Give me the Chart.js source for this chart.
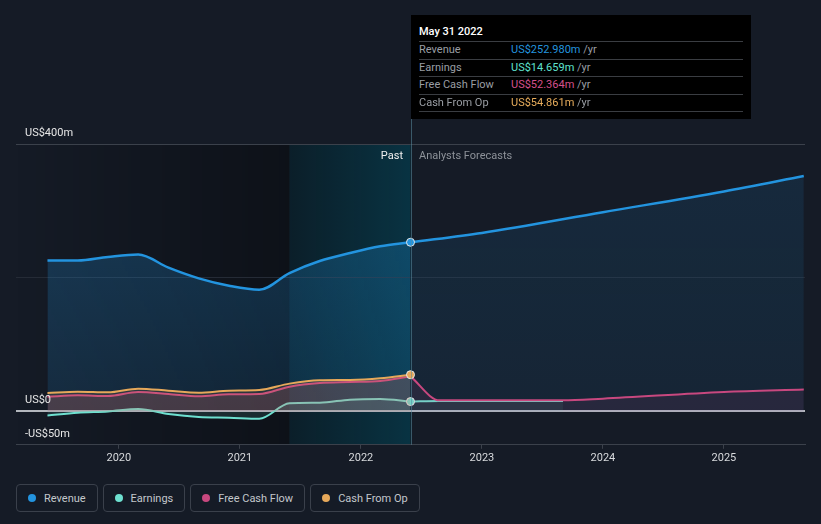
<!DOCTYPE html>
<html>
<head>
<meta charset="utf-8">
<script src="https://cdn.jsdelivr.net/npm/chart.js@4/dist/chart.umd.min.js"></script>
<style>
  body { margin: 0; background: #151b26; font-family: Roboto, 'Noto Sans', sans-serif; }
  #wrap { position: relative; width: 821px; height: 524px; overflow: hidden; }
  #chart { position: absolute; left: 0; top: 0; }
  .tip { position: absolute; left: 411px; top: 15px; width: 340px; height: 104px; background: #000; font-size: 11px; }
  .tip .title { position: absolute; left: 8px; top: 10px; color: #fff; font-weight: 500; }
  .tip .row { position: absolute; left: 8px; width: 324px; height: 17px; border-top: 1px solid #3a3d42; }
  .tip .row > span { position: absolute; top: 1px; }
  .tip .lab { left: 0; color: #9a9ea4; }
  .tip .val { left: 92px; white-space: nowrap; }
  .tip .yr { color: #9a9ea4; }
  .legend { position: absolute; left: 16px; top: 484px; display: flex; gap: 5px; }
  .legend div { height: 26px; border: 1px solid #3a404b; border-radius: 4px; padding: 0 11px; display: flex; align-items: center; color: #c3c7cc; font-size: 11px; }
  .legend i { width: 8px; height: 8px; border-radius: 50%; margin-right: 8px; display: inline-block; }
</style>
</head>
<body>
<div id="wrap">
  <canvas id="chart" width="821" height="470"></canvas>
  <div class="tip" id="tip"></div>
  <div class="legend" id="legend"></div>
</div>
<script>
// past data, quarterly (decimal years), US$m
const pastDates = [2019.41, 2019.66, 2019.91, 2020.16, 2020.41, 2020.66, 2020.91, 2021.16, 2021.41, 2021.66, 2021.91, 2022.16, 2022.41];
const revenuePast = [225.6, 225.6, 231, 234.6, 215, 199, 188, 182, 207, 225, 237, 247, 252.98];
const earningsPast = [-6, -2, 0, 3.5, -4, -8.5, -9.5, -11, 12, 13, 17.5, 18.5, 14.659];
const fcfPast = [22, 24, 23, 29, 26, 22.5, 25.5, 26, 37, 42.5, 44, 45.5, 52.364];
const cfoPast = [27.5, 29.5, 28.5, 34, 31, 28, 31, 32, 41.5, 46.5, 47, 49.5, 54.861];

// analyst forecasts
const revenueFcDates = [2022.41, 2023.0, 2024.0, 2025.0, 2025.66];
const revenueFc = [252.98, 267, 298, 329, 352];
const earningsFcDates = [2022.41, 2022.65, 2023.67];
const earningsFc = [14.659, 15.5, 15.5];
const fcfFcDates = [2022.41, 2022.65, 2023.67, 2024.0, 2025.0, 2025.66];
const fcfFc = [52.364, 16.5, 16.5, 19, 29, 32.6];

const xTickYears = [2020, 2021, 2022, 2023, 2024, 2025];
const yGridValues = [-50, 0, 200, 400];
const yTickLabels = [[400, 'US$400m'], [0, 'US$0'], [-50, '-US$50m']];
const nowDate = 2022.41;
const yearAgoDate = 2021.41;

const colors = { revenue: '#2394df', earnings: '#6ee0d0', fcf: '#c8487f', cfo: '#e6a85a' };

const tipRows = [
  ['Revenue', 'US$252.980m', colors.revenue],
  ['Earnings', 'US$14.659m', '#5fe3cf'],
  ['Free Cash Flow', 'US$52.364m', '#d4508c'],
  ['Cash From Op', 'US$54.861m', '#e8ad5c']
];
const legendItems = [['Revenue', colors.revenue], ['Earnings', colors.earnings], ['Free Cash Flow', colors.fcf], ['Cash From Op', colors.cfo]];

const tip = document.getElementById('tip');
tip.innerHTML = '<div class="title">May 31 2022</div>' + tipRows.map((r, i) =>
  `<div class="row" style="top:${26 + i * 17.5}px"><span class="lab">${r[0]}</span><span class="val"><span style="color:${r[2]}">${r[1]}</span> <span class="yr">/yr</span></span></div>`
).join('') + '<div class="row" style="top:96px"></div>';
document.getElementById('legend').innerHTML = legendItems.map(l => `<div><i style="background:${l[1]}"></i>${l[0]}</div>`).join('');

const pts = (xs, ys) => xs.map((x, i) => ({ x: x, y: ys[i] }));
const lastDot = (n) => (ctx) => ctx.dataIndex === n - 1 ? 4 : 0;

function line(data, color, fill, width, radius) {
  return {
    data: data, borderColor: color, backgroundColor: fill, fill: 'origin',
    borderWidth: width, cubicInterpolationMode: 'monotone',
    pointRadius: radius || 0, pointBackgroundColor: color, pointBorderColor: '#e8e8e8', pointBorderWidth: 1
  };
}

function revenueFill(alphaTop, alphaBottom) {
  return (ctx) => {
    const a = ctx.chart.chartArea;
    if (!a) return 'rgba(35,148,223,0.15)';
    const g = ctx.chart.ctx.createLinearGradient(0, a.top, 0, a.bottom);
    g.addColorStop(0, `rgba(35,148,223,${alphaTop})`);
    g.addColorStop(1, `rgba(35,148,223,${alphaBottom})`);
    return g;
  };
}

const regions = {
  id: 'regions',
  beforeDraw(chart) {
    const { ctx, chartArea: a, scales: { x } } = chart;
    const xNow = x.getPixelForValue(nowDate), xAgo = x.getPixelForValue(yearAgoDate);
    ctx.save();
    let g = ctx.createLinearGradient(a.left, 0, xAgo, 0);
    g.addColorStop(0, 'rgba(0,0,0,0)');
    g.addColorStop(1, 'rgba(0,0,0,0.35)');
    ctx.fillStyle = g;
    ctx.fillRect(a.left, a.top, xAgo - a.left, a.bottom - a.top);
    ctx.fillStyle = 'rgba(0,0,0,0.35)';
    ctx.fillRect(xAgo, a.top, xNow - xAgo, a.bottom - a.top);
    g = ctx.createLinearGradient(xAgo, 0, xNow, 0);
    g.addColorStop(0, 'rgba(0,110,140,0.15)');
    g.addColorStop(1, 'rgba(0,110,140,0.36)');
    ctx.fillStyle = g;
    ctx.fillRect(xAgo, a.top, xNow - xAgo, a.bottom - a.top);
    ctx.restore();
  },
  afterDraw(chart) {
    const { ctx, chartArea: a, scales: { x, y } } = chart;
    const xNow = Math.round(x.getPixelForValue(nowDate)) + 0.5;
    ctx.save();
    ctx.strokeStyle = 'rgba(90,140,160,0.55)';
    ctx.lineWidth = 1;
    ctx.beginPath();
    ctx.moveTo(xNow, 15);
    ctx.lineTo(xNow, a.bottom);
    ctx.stroke();
    ctx.font = '11px Roboto';
    ctx.textBaseline = 'middle';
    ctx.fillStyle = '#e6e6e6';
    yTickLabels.forEach(([v, t]) => ctx.fillText(t, a.left + 9, y.getPixelForValue(v) - 11));
    ctx.textAlign = 'right';
    ctx.fillStyle = '#f0f0f0';
    ctx.fillText('Past', xNow - 8.5, a.top + 12);
    ctx.textAlign = 'left';
    ctx.fillStyle = '#8d9299';
    ctx.fillText('Analysts Forecasts', xNow + 7.5, a.top + 12);
    ctx.restore();
  }
};

new Chart(document.getElementById('chart'), {
  type: 'line',
  data: {
    datasets: [
      line(pts(pastDates, cfoPast), colors.cfo, 'rgba(230,168,90,0.12)', 2, lastDot(pastDates.length)),
      line(pts(pastDates, fcfPast), colors.fcf, 'rgba(200,72,127,0.16)', 2),
      line(pts(fcfFcDates, fcfFc), colors.fcf, 'rgba(200,72,127,0.1)', 2),
      line(pts(pastDates, earningsPast), colors.earnings, 'rgba(110,224,208,0.12)', 2, lastDot(pastDates.length)),
      line(pts(earningsFcDates, earningsFc), colors.earnings, 'rgba(110,224,208,0.08)', 2),
      line(pts(pastDates, revenuePast), colors.revenue, revenueFill(0.3, 0.12), 2.5, lastDot(pastDates.length)),
      line(pts(revenueFcDates, revenueFc), colors.revenue, revenueFill(0.13, 0.08), 2.5)
    ]
  },
  options: {
    responsive: false,
    animation: false,
    devicePixelRatio: 1,
    layout: { padding: { left: 16, right: 16, top: 144, bottom: 2 } },
    plugins: { legend: { display: false }, tooltip: { enabled: false } },
    scales: {
      x: {
        type: 'linear', min: 2019.15, max: 2025.67,
        afterBuildTicks: (axis) => { axis.ticks = xTickYears.map(v => ({ value: v })); },
        ticks: { color: '#d8dadd', font: { family: 'Roboto', size: 11 }, padding: 3, callback: (v) => String(v) },
        grid: { drawOnChartArea: false, tickLength: 4, color: '#3b414b' },
        border: { color: '#3b414b' }
      },
      y: {
        min: -50, max: 400,
        afterBuildTicks: (axis) => { axis.ticks = yGridValues.map(v => ({ value: v })); },
        ticks: { display: false },
        grid: {
          drawTicks: false,
          color: (c) => c.tick.value === 0 ? '#b3b7bd' : c.tick.value === 400 ? '#3b414b' : c.tick.value === 200 ? '#252b36' : 'rgba(0,0,0,0)',
          lineWidth: (c) => c.tick.value === 0 ? 2 : 1
        },
        border: { display: false }
      }
    }
  },
  plugins: [regions]
});
</script>
</body>
</html>
